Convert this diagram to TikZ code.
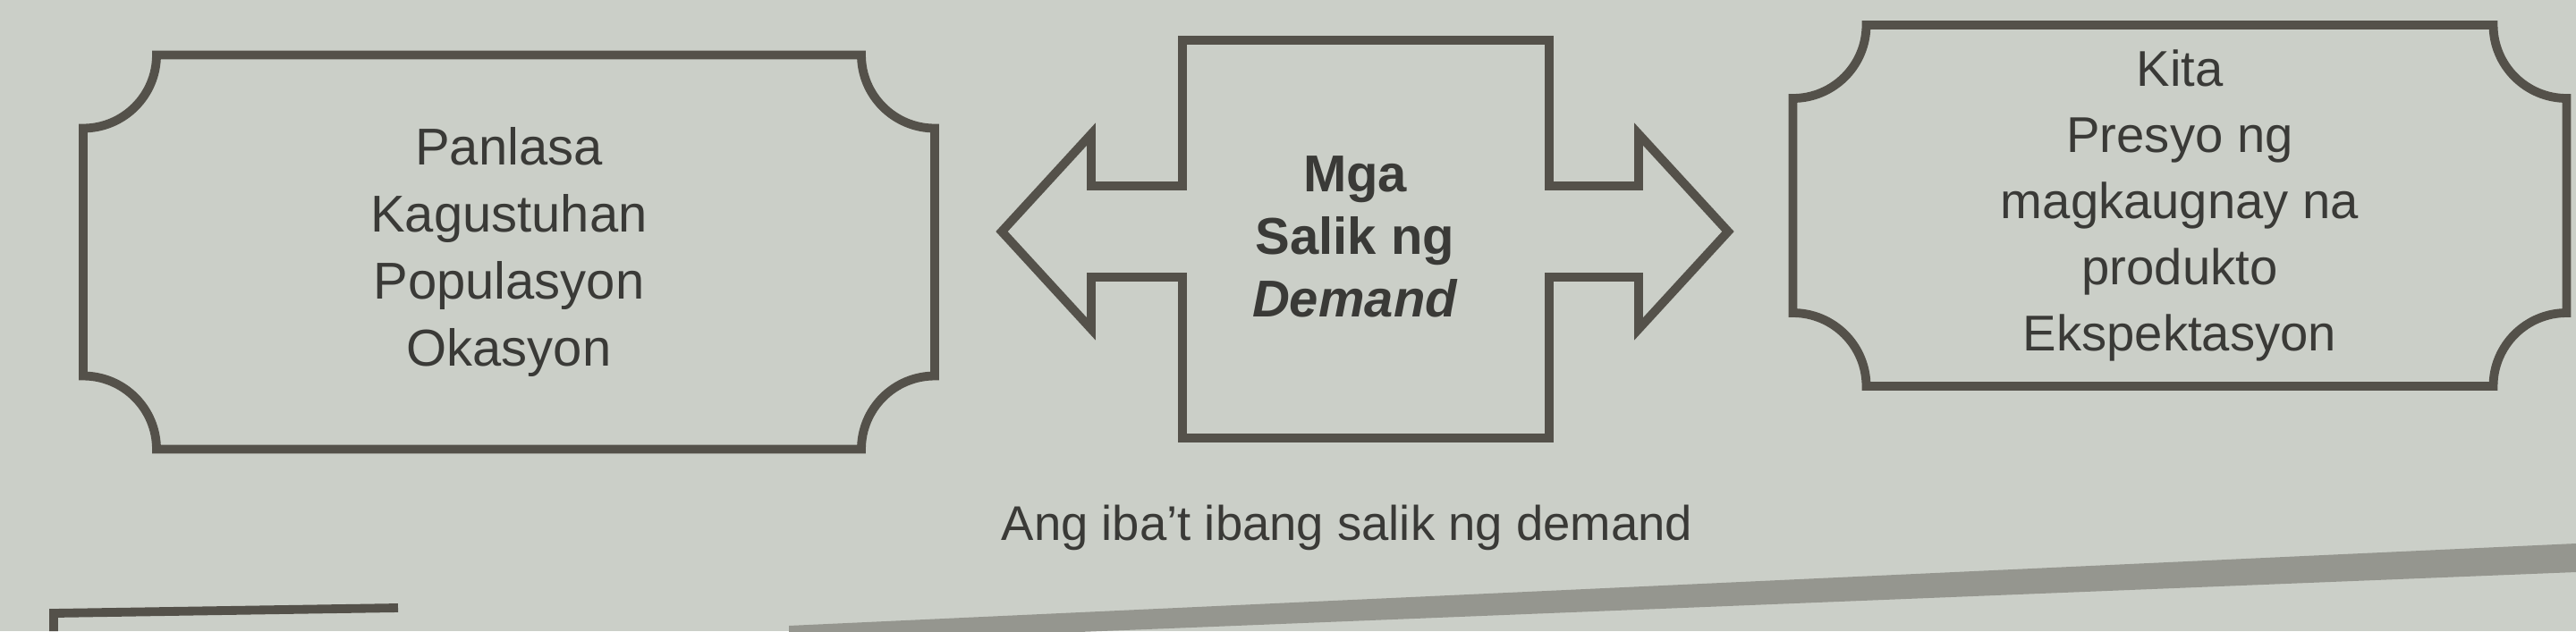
\documentclass[tikz,border=0pt]{standalone}
\usepackage{fontspec}
\setmainfont{Liberation Sans}
\usetikzlibrary{positioning}
\definecolor{paper}{RGB}{203,207,200}
\definecolor{ink}{RGB}{84,81,74}
\definecolor{print}{RGB}{58,58,55}

\begin{document}
\begin{tikzpicture}[frame/.style={draw=ink, line width=2.8pt, line join=miter},
  items/.style={text=print, align=center, outer sep=0pt, font=\fontsize{16.5}{21.3}\selectfont}]
\fill[paper] (0,0) rectangle (28.8,7.06);
\useasboundingbox (0,0) rectangle (28.8,7.06);
\fill[ink!45!paper] (8.82,0.06) -- (28.8,0.98) -- (28.8,0.66) -- (8.82,-0.14) -- cycle;
\draw[frame] (0.6,0) -- (0.6,0.2) -- (4.45,0.26);

\node[items, minimum width=9.52cm, minimum height=4.41cm] (factors) at (5.69,4.24) {Panlasa\\Kagustuhan\\Populasyon\\Okasyon};
\node[items, font=\bfseries\fontsize{16.5}{20}\selectfont] (mid) at (15.15,4.41) {Mga\\Salik ng\\\textit{Demand}};
\node[items, font=\fontsize{16}{21}\selectfont, minimum width=8.65cm, minimum height=4.04cm] (others) at (24.37,4.76) {Kita\\Presyo ng\\magkaugnay na\\produkto\\Ekspektasyon};
\node[text=print, font=\fontsize{15.5}{18}\selectfont] (caption) at (15.06,1.16) {Ang iba't ibang salik ng demand};

\draw[frame] ([xshift=0.82cm]factors.north west) -- ([xshift=-0.82cm]factors.north east) arc[start angle=180, end angle=270, radius=0.82cm]
  -- ([yshift=0.82cm]factors.south east) arc[start angle=90, end angle=180, radius=0.82cm]
  -- ([xshift=0.82cm]factors.south west) arc[start angle=0, end angle=90, radius=0.82cm]
  -- ([yshift=-0.82cm]factors.north west) arc[start angle=-90, end angle=0, radius=0.82cm] -- cycle;
\draw[frame] ([xshift=0.82cm]others.north west) -- ([xshift=-0.82cm]others.north east) arc[start angle=180, end angle=270, radius=0.82cm]
  -- ([yshift=0.82cm]others.south east) arc[start angle=90, end angle=180, radius=0.82cm]
  -- ([xshift=0.82cm]others.south west) arc[start angle=0, end angle=90, radius=0.82cm]
  -- ([yshift=-0.82cm]others.north west) arc[start angle=-90, end angle=0, radius=0.82cm] -- cycle;

\draw[frame, shift={(mid.center)}] (-1.93,2.20) -- (2.17,2.20) -- (2.17,0.57) -- (3.17,0.57) -- (3.17,1.15) -- (4.17,0.06)
  -- (3.17,-1.03) -- (3.17,-0.45) -- (2.17,-0.45) -- (2.17,-2.25) -- (-1.93,-2.25) -- (-1.93,-0.45) -- (-2.95,-0.45)
  -- (-2.95,-1.03) -- (-3.95,0.06) -- (-2.95,1.15) -- (-2.95,0.57) -- (-1.93,0.57) -- cycle;
\end{tikzpicture}
\end{document}
